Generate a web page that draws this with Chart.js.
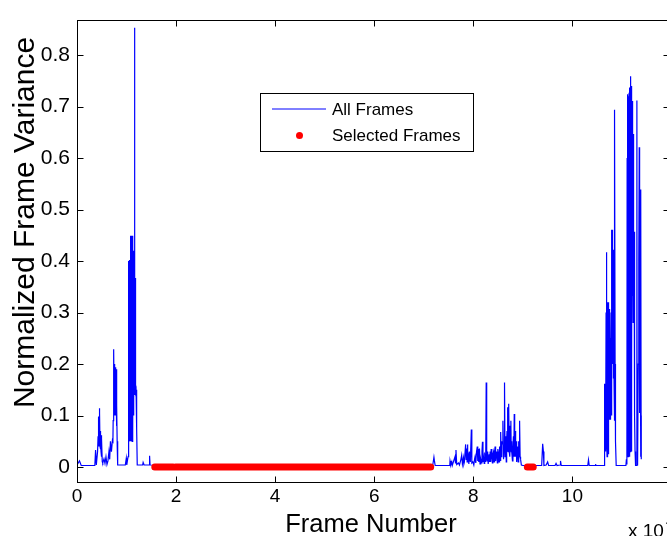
<!DOCTYPE html>
<html>
<head>
<meta charset="utf-8">
<script src="https://cdn.jsdelivr.net/npm/chart.js@4.4.0/dist/chart.umd.min.js"></script>
<style>
  html, body { margin: 0; padding: 0; background: #fff; overflow: hidden; }
  #wrap { position: relative; width: 667px; height: 536px; overflow: hidden; }
  canvas { display: block; }
</style>
</head>
<body>
<div id="wrap"><canvas id="chart" width="680" height="536"></canvas></div>
<script>
// frame number / normalized variance
const frames = [
  0, 500, 850, 3600, 3750, 3900, 4150, 4250, 4300, 4350, 4400, 4450, 4500, 4550, 4600, 4650, 4700,
  4750, 4800, 4850, 4900, 4950, 5000, 5100, 5200, 5450, 5650, 5850, 6050, 6250, 6450, 6600, 6750,
  6950, 7150, 7250, 7300, 7350, 7400, 7450, 7500, 7550, 7600, 7650, 7700, 7750, 7800, 7850, 7900,
  7950, 8000, 8060, 8120, 8180, 8240, 9750, 9950, 10050, 10300,
  10380, 10420, 10460, 10500, 10540, 10580, 10620, 10660, 10700, 10740, 10780, 10820, 10860, 10900,
  10940, 10980, 11020, 11060, 11100, 11140, 11180, 11220, 11260, 11300, 11340, 11380, 11420, 11460,
  11500, 11540, 11600, 11640, 11680, 11720, 11760, 11800, 11840, 11880, 11920, 11980, 12040, 12100,
  12160, 13250, 13350, 13550, 14550, 14650, 14750,
  71800, 72050, 72150, 72300, 75250, 75300, 75450, 75650, 75750, 76300, 76400, 76500, 76650, 77000,
  77200, 77500, 77650, 77800, 78000, 78100, 78200, 78450, 78550, 78680, 78750, 78810, 78900, 79000,
  79100, 79200, 79400, 79600, 79700, 79900, 80100, 80250, 80350, 80500, 80650, 80800, 80900, 81000,
  81100, 81240, 81350, 81500, 81650, 81750, 81850, 81950, 82050, 82200, 82300, 82400, 82500, 82600,
  82700, 82800, 82900, 83000, 83200, 83300, 83400, 83500, 83600, 83740, 83850, 83950, 84080, 84200,
  84300, 84400, 84500, 84600, 84750, 84850, 84950, 85100, 85200, 85300, 85400, 85480, 85560, 85650,
  85750, 85850, 85970, 86100, 86200, 86300, 86400, 86500, 86580, 86650, 86730, 86800, 86860, 86910,
  86960, 87000, 87050, 87100, 87180, 87250, 87320, 87400, 87500, 87580, 87650, 87720, 87790, 87900,
  88000, 88100, 88180, 88260, 88350, 88430, 88500, 88580, 88660, 88750, 88850, 88940, 89050, 89120,
  89200, 89270, 89340, 89450, 89540, 89700, 90000,
  93800, 94000, 94150, 94250, 94700, 95000, 95200, 96500, 96700, 96900, 97500, 97600, 97750,
  103100, 103250, 103400, 104600, 104650, 104750,
  106400, 106450, 106500, 106550, 106600, 106650, 106700, 106750, 106800, 106850, 106880, 106920,
  106960, 107000, 107050, 107100, 107150, 107200, 107250, 107300, 107350, 107400, 107450, 107500,
  107560, 107600, 107640, 107700, 107760, 107820, 107880, 107930, 107960, 108000, 108040, 108080,
  108120, 108160, 108200, 108230, 108270, 108310, 108350, 108400, 108450, 108500, 108570, 108620,
  108700, 108840, 110800, 110900, 111000,
  111050, 111090, 111130, 111170, 111210, 111250, 111290, 111330, 111370, 111410, 111450, 111490,
  111530, 111570, 111610, 111650, 111690, 111730, 111770, 111810, 111850, 111890, 111930, 111970,
  112010, 112050, 112090, 112130, 112170, 112210, 112250, 112290, 112330, 112370, 112410, 112450,
  112500, 112550, 112600, 112650, 112750, 112950, 113020, 113060, 113100, 113220, 113300, 113400,
  113490, 113530, 113560, 113620, 113700, 113760, 113830, 113870, 113900
];
const variance = [
  0.004, 0.012, 0.003, 0.003, 0.033, 0.004, 0.03, 0.06, 0.098, 0.04, 0.098, 0.06, 0.114, 0.04, 0.105, 0.04, 0.07,
  0.035, 0.062, 0.03, 0.062, 0.02, 0.055, 0.01, 0.008, 0.016, 0.007, 0.02, 0.005, 0.012, 0.03, 0.015, 0.05,
  0.03, 0.052, 0.05, 0.09, 0.2, 0.1, 0.229, 0.12, 0.2, 0.1, 0.196, 0.12, 0.194, 0.1, 0.194, 0.13,
  0.19, 0.08, 0.12, 0.04, 0.05, 0.004, 0.004, 0.017, 0.004, 0.02,
  0.4, 0.05, 0.4, 0.06, 0.402, 0.05, 0.39, 0.07, 0.4, 0.05, 0.449, 0.05, 0.449, 0.06,
  0.449, 0.05, 0.449, 0.07, 0.449, 0.05, 0.449, 0.08, 0.44, 0.06, 0.42, 0.1, 0.3, 0.15,
  0.2, 0.3, 0.853, 0.14, 0.367, 0.15, 0.367, 0.146, 0.36, 0.146, 0.15, 0.075, 0.146, 0.075,
  0.004, 0.004, 0.009, 0.004, 0.004, 0.022, 0.004,
  0.003, 0.019, 0.012, 0.003, 0.003, 0.012, 0.004, 0.01, 0.003, 0.02, 0.008, 0.033, 0.005, 0.008,
  0.004, 0.015, 0.023, 0.006, 0.018, 0.006, 0.01, 0.044, 0.015, 0.036, 0.01, 0.044, 0.012, 0.02,
  0.006, 0.03, 0.01, 0.073, 0.008, 0.01, 0.004, 0.015, 0.02, 0.008, 0.03, 0.04, 0.012, 0.035,
  0.01, 0.036, 0.006, 0.015, 0.008, 0.03, 0.049, 0.01, 0.02, 0.007, 0.025, 0.023, 0.01, 0.164,
  0.015, 0.012, 0.03, 0.006, 0.025, 0.01, 0.03, 0.01, 0.035, 0.02, 0.008, 0.025, 0.03, 0.01,
  0.03, 0.04, 0.012, 0.03, 0.02, 0.008, 0.035, 0.026, 0.01, 0.04, 0.02, 0.012, 0.068, 0.02,
  0.05, 0.045, 0.09, 0.015, 0.04, 0.164, 0.02, 0.03, 0.06, 0.01, 0.05, 0.07, 0.03, 0.116,
  0.04, 0.1, 0.03, 0.1, 0.123, 0.03, 0.08, 0.02, 0.06, 0.09, 0.03, 0.05, 0.03, 0.012,
  0.04, 0.06, 0.02, 0.103, 0.02, 0.07, 0.04, 0.02, 0.05, 0.01, 0.04, 0.03, 0.01, 0.04,
  0.05, 0.02, 0.09, 0.02, 0.015, 0.004, 0.003,
  0.003, 0.045, 0.03, 0.003, 0.004, 0.01, 0.003, 0.003, 0.007, 0.003, 0.004, 0.012, 0.003,
  0.003, 0.014, 0.003, 0.003, 0.006, 0.003,
  0.003, 0.07, 0.162, 0.12, 0.162, 0.121, 0.15, 0.03, 0.3, 0.1, 0.417, 0.15,
  0.05, 0.02, 0.32, 0.03, 0.32, 0.1, 0.32, 0.025, 0.3, 0.1, 0.307, 0.092,
  0.307, 0.12, 0.092, 0.25, 0.092, 0.3, 0.1, 0.27, 0.461, 0.27, 0.461, 0.27,
  0.45, 0.2, 0.422, 0.172, 0.422, 0.172, 0.4, 0.172, 0.3, 0.09, 0.694, 0.2,
  0.05, 0.003, 0.003, 0.015, 0.005,
  0.6, 0.02, 0.724, 0.03, 0.72, 0.02, 0.72, 0.04, 0.6, 0.02, 0.727, 0.03,
  0.72, 0.02, 0.737, 0.03, 0.73, 0.05, 0.7, 0.759, 0.04, 0.74, 0.03, 0.711,
  0.2, 0.711, 0.332, 0.711, 0.332, 0.647, 0.281, 0.647, 0.281, 0.6, 0.3, 0.457,
  0.3, 0.457, 0.1, 0.03, 0.003, 0.003, 0.712, 0.02, 0.003, 0.003, 0.2, 0.4,
  0.621, 0.105, 0.5, 0.105, 0.3, 0.02, 0.539, 0.1, 0.015
];

// runs of selected frames (plotted at variance 0)
const selStart = [15700, 19900, 90900];
const selEnd = [19400, 71400, 92100];

const xTicks = [0, 20000, 40000, 60000, 80000, 100000];
const yTicks = [0, 0.1, 0.2, 0.3, 0.4, 0.5, 0.6, 0.7, 0.8];

const allPts = frames.map((f, i) => ({ x: f, y: variance[i] }));
const selPts = [];
selStart.forEach((s, i) => {
  selPts.push({ x: s, y: 0 }, { x: selEnd[i], y: 0 }, { x: selEnd[i], y: null });
});

Chart.defaults.font.family = '"Liberation Sans", Arial, Helvetica, sans-serif';
Chart.defaults.color = '#000';

// box, inward ticks, titles and legend (matlab look)
const matlabFrame = {
  id: 'matlabFrame',
  afterDraw(chart) {
    const { ctx, chartArea: a, scales: { x, y } } = chart;
    const L = Math.round(a.left) + 0.5, R = Math.round(a.right) + 0.5;
    const T = Math.round(a.top) + 0.5, B = Math.round(a.bottom) + 0.5;
    ctx.save();
    ctx.strokeStyle = '#000';
    ctx.lineWidth = 1;
    ctx.strokeRect(L, T, R - L, B - T);
    ctx.beginPath();
    xTicks.forEach(v => {
      const p = Math.round(x.getPixelForValue(v)) + 0.5;
      ctx.moveTo(p, B); ctx.lineTo(p, B - 6);
      ctx.moveTo(p, T); ctx.lineTo(p, T + 6);
    });
    yTicks.forEach(v => {
      const p = Math.round(y.getPixelForValue(v)) + 0.5;
      ctx.moveTo(L, p); ctx.lineTo(L + 6, p);
      ctx.moveTo(R, p); ctx.lineTo(R - 6, p);
    });
    ctx.stroke();

    // axis titles
    ctx.fillStyle = '#000';
    ctx.textAlign = 'center';
    ctx.textBaseline = 'alphabetic';
    ctx.font = '25.5px "Liberation Sans", Arial, sans-serif';
    ctx.fillText('Frame Number', 371, 532);
    ctx.save();
    ctx.translate(33.5, 222.5);
    ctx.rotate(-Math.PI / 2);
    ctx.font = '30px "Liberation Sans", Arial, sans-serif';
    ctx.fillText('Normalized Frame Variance', 0, 0);
    ctx.restore();

    // exponent note
    ctx.textAlign = 'left';
    ctx.font = '19px "Liberation Sans", Arial, sans-serif';
    ctx.fillText('x 10', 628, 537);
    ctx.font = '14px "Liberation Sans", Arial, sans-serif';
    ctx.fillText('4', 666, 526);

    // legend
    const ds = chart.data.datasets;
    ctx.fillStyle = '#fff';
    ctx.fillRect(260.5, 93.5, 213, 58);
    ctx.strokeRect(260.5, 93.5, 213, 58);
    ctx.strokeStyle = ds[0].borderColor;
    ctx.beginPath();
    ctx.moveTo(272, 109); ctx.lineTo(326, 109);
    ctx.stroke();
    ctx.fillStyle = ds[1].borderColor;
    ctx.beginPath();
    ctx.arc(299.5, 135.5, 3.5, 0, Math.PI * 2);
    ctx.fill();
    ctx.fillStyle = '#000';
    ctx.font = '17px "Liberation Sans", Arial, sans-serif';
    ctx.fillText(ds[0].label, 332, 115);
    ctx.fillText(ds[1].label, 332, 141);
    ctx.restore();
  }
};

new Chart(document.getElementById('chart'), {
  type: 'line',
  data: {
    datasets: [
      {
        label: 'All Frames',
        data: allPts,
        borderColor: '#0000ff',
        borderWidth: 1.2,
        pointRadius: 0,
        tension: 0,
        order: 2
      },
      {
        label: 'Selected Frames',
        data: selPts,
        borderColor: '#ff0000',
        borderWidth: 7,
        borderCapStyle: 'round',
        pointRadius: 0,
        spanGaps: false,
        order: 1
      }
    ]
  },
  options: {
    responsive: false,
    animation: false,
    devicePixelRatio: 1,
    layout: { padding: { top: 16, right: 11.5, left: 0, bottom: 0 } },
    plugins: { legend: { display: false }, tooltip: { enabled: false } },
    scales: {
      x: {
        type: 'linear',
        min: 0,
        max: 119400,
        afterBuildTicks: s => { s.ticks = xTicks.map(v => ({ value: v })); },
        afterFit: s => { s.height = 54; },
        grid: { display: false, drawTicks: false },
        border: { display: false },
        ticks: {
          font: { size: 19 },
          padding: 3,
          maxRotation: 0,
          autoSkip: false,
          callback: v => v / 10000
        }
      },
      y: {
        type: 'linear',
        min: -0.029,
        max: 0.869,
        afterBuildTicks: s => { s.ticks = yTicks.map(v => ({ value: v })); },
        afterFit: s => { s.width = 77; },
        grid: { display: false, drawTicks: false },
        border: { display: false },
        ticks: {
          font: { size: 21 },
          padding: 7,
          autoSkip: false,
          callback: v => (v === 0 ? '0' : v.toFixed(1))
        }
      }
    }
  },
  plugins: [matlabFrame]
});
</script>
</body>
</html>
